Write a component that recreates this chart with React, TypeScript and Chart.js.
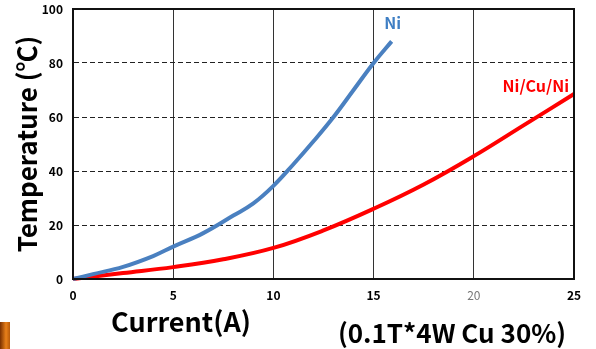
import React, { useEffect, useRef } from "react";
import { Chart, registerables } from "chart.js";

Chart.register(...registerables);

const niCurrent = [0, 1, 2.5, 4, 5, 6.5, 8, 9, 10, 11, 12, 13, 14, 15, 15.9];
const niTemp = [0, 1.8, 4.5, 8.5, 12, 17, 23.5, 28, 34.5, 42.5, 51, 60, 70, 80, 88];
const cuCurrent = [0, 2.5, 5, 7.5, 10, 12.5, 15, 17.5, 20, 22.5, 25];
const cuTemp = [0, 2.2, 4.4, 7.3, 11.5, 18, 26, 35, 45.5, 57, 68.5];
const xTicks = [0, 5, 10, 15, 20, 25];
const yTicks = [0, 20, 40, 60, 80, 100];

const FONT = "'Noto Sans CJK KR', 'Noto Sans', sans-serif";

const textPlugin = {
  id: "texts",
  afterDraw(chart: any) {
    const ctx = chart.ctx;
    const a = chart.chartArea;
    const xs = chart.scales.x;
    const ys = chart.scales.y;
    ctx.save();
    // frame
    ctx.strokeStyle = "#111";
    ctx.lineWidth = 2;
    ctx.strokeRect(a.left, a.top, a.right - a.left, a.bottom - a.top);
    // series labels
    ctx.font = `bold 16px ${FONT}`;
    ctx.textBaseline = "middle";
    ctx.fillStyle = "#3f7fc4";
    ctx.textAlign = "center";
    const ni = niCurrent.length - 1;
    ctx.fillText("Ni", xs.getPixelForValue(niCurrent[ni]) + 1, ys.getPixelForValue(niTemp[ni]) - 18);
    ctx.fillStyle = "#ff0000";
    ctx.textAlign = "right";
    const cu = cuCurrent.length - 1;
    ctx.fillText("Ni/Cu/Ni", xs.getPixelForValue(cuCurrent[cu]) - 5, ys.getPixelForValue(cuTemp[cu]) - 8);
    // axis titles
    ctx.fillStyle = "#000";
    ctx.textAlign = "center";
    ctx.font = `bold 27px ${FONT}`;
    ctx.fillText("Current(A)", 181, 322);
    ctx.font = `bold 26px ${FONT}`;
    ctx.fillText("(0.1T*4W Cu 30%)", 452, 333);
    ctx.translate(27, 144);
    ctx.rotate(-Math.PI / 2);
    ctx.font = `bold 26px ${FONT}`;
    ctx.fillText("Temperature (\u2103)", 0, 0);
    ctx.restore();
  },
};

export default function App() {
  const ref = useRef<HTMLCanvasElement>(null);
  useEffect(() => {
    if (!ref.current) return;
    const chart = new Chart(ref.current, {
      type: "line",
      data: {
        datasets: [
          {
            label: "Ni",
            data: niCurrent.map((x, i) => ({ x, y: niTemp[i] })),
            borderColor: "#4a80c0",
            borderWidth: 4,
            pointRadius: 0,
            tension: 0.4,
            clip: false as any,
          },
          {
            label: "Ni/Cu/Ni",
            data: cuCurrent.map((x, i) => ({ x, y: cuTemp[i] })),
            borderColor: "#ff0000",
            borderWidth: 4,
            pointRadius: 0,
            tension: 0.4,
            clip: false as any,
          },
        ],
      },
      options: {
        animation: false,
        responsive: false,
        events: [],
        layout: { padding: { left: 0, top: 9, right: 22, bottom: 0 } },
        plugins: { legend: { display: false }, tooltip: { enabled: false } },
        scales: {
          x: {
            type: "linear",
            min: 0,
            max: 25,
            afterFit(s: any) {
              s.height = 70;
              s.paddingLeft = 0;
              s.paddingRight = 0;
            },
            afterBuildTicks(s: any) {
              s.ticks = xTicks.map((v) => ({ value: v }));
            },
            grid: { color: "#333", lineWidth: 1, drawTicks: false },
            border: { color: "#111", width: 2 },
            ticks: {
              padding: 9,
              color: (c: any) => (c.tick && c.tick.value === 20 ? "#777" : "#000"),
              font: (c: any) =>
                c.tick && c.tick.value === 20
                  ? { family: FONT, size: 12, weight: "normal" }
                  : { family: FONT, size: 12, weight: "bold" },
            },
          },
          y: {
            type: "linear",
            min: 0,
            max: 100,
            afterFit(s: any) {
              s.width = 73;
              s.paddingTop = 0;
              s.paddingBottom = 0;
            },
            afterBuildTicks(s: any) {
              s.ticks = yTicks.map((v) => ({ value: v }));
            },
            grid: { color: "#222", lineWidth: 1, drawTicks: false },
            border: { color: "#111", width: 2, dash: [5, 3] },
            ticks: {
              padding: 10,
              color: "#000",
              font: { family: FONT, size: 12, weight: "bold" },
            },
          },
        },
      },
      plugins: [textPlugin],
    } as any);
    return () => chart.destroy();
  }, []);
  return (
    <div style={{ position: "fixed", left: 0, top: 0, width: 596, height: 349, background: "#fff" }}>
      <canvas ref={ref} width={596} height={349} style={{ display: "block" }} />
      <div
        style={{
          position: "absolute",
          left: 0,
          top: 322,
          width: 10,
          height: 27,
          background: "linear-gradient(to right, #7a3000, #e8801a 60%, #b85a0a)",
        }}
      />
    </div>
  );
}
